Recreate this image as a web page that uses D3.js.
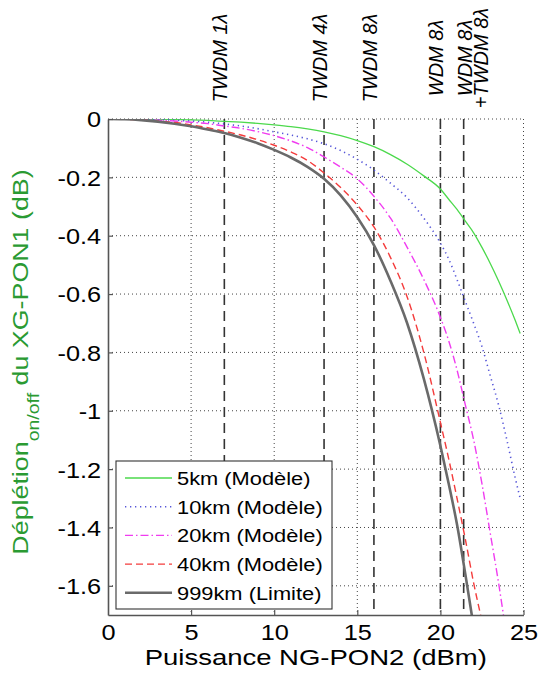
<!DOCTYPE html>
<html><head><meta charset="utf-8">
<script src="https://cdn.jsdelivr.net/npm/d3@7"></script>
<style>
body{margin:0;background:#fff}
svg text{font-family:"Liberation Sans",Arial,Helvetica,sans-serif;fill:#000}
</style>
</head><body>
<svg id="chart" width="539" height="682"></svg>
<script>
// ---------- data ----------
const xValues   = [0,1,2,3,4,5,6,7,8,9,10,11,12,13,14,15,16,17,18,19,20,20.5,21,21.5,22,22.5,23,23.5,24,24.5,24.8];
const km5       = [0,0,-0.001,-0.001,-0.002,-0.003,-0.005,-0.008,-0.011,-0.015,-0.02,-0.026,-0.034,-0.044,-0.057,-0.074,-0.095,-0.122,-0.155,-0.195,-0.24,-0.275,-0.31,-0.35,-0.39,-0.44,-0.495,-0.555,-0.62,-0.69,-0.735];
const km10      = [0,0,-0.001,-0.002,-0.004,-0.007,-0.011,-0.017,-0.024,-0.033,-0.044,-0.055,-0.068,-0.085,-0.108,-0.138,-0.175,-0.22,-0.27,-0.34,-0.425,-0.48,-0.55,-0.625,-0.7,-0.78,-0.88,-0.98,-1.1,-1.23,-1.3];
const km20      = [0,-0.0005,-0.002,-0.004,-0.007,-0.011,-0.016,-0.024,-0.032,-0.043,-0.057,-0.075,-0.098,-0.13,-0.165,-0.205,-0.265,-0.34,-0.44,-0.55,-0.68,-0.76,-0.86,-0.98,-1.1,-1.25,-1.42,-1.59,-1.78,null,null];
const km40      = [0,-0.001,-0.003,-0.007,-0.012,-0.02,-0.03,-0.042,-0.055,-0.071,-0.09,-0.113,-0.142,-0.185,-0.235,-0.295,-0.37,-0.475,-0.61,-0.8,-1.04,-1.165,-1.3,-1.44,-1.59,-1.72,null,null,null,null,null];
const km999     = [0,-0.001,-0.004,-0.009,-0.016,-0.025,-0.036,-0.048,-0.064,-0.083,-0.106,-0.132,-0.164,-0.205,-0.262,-0.337,-0.432,-0.555,-0.7,-0.89,-1.12,-1.25,-1.39,-1.56,-1.74,null,null,null,null,null,null];
const seriesNames  = ["5km (Modèle)","10km (Modèle)","20km (Modèle)","40km (Modèle)","999km (Limite)"];
const seriesValues = [km5, km10, km20, km40, km999];
const xTicks      = [0,5,10,15,20,25];
const xTickLabels = ["0","5","10","15","20","25"];
const yTicks      = [0,-0.2,-0.4,-0.6,-0.8,-1,-1.2,-1.4,-1.6];
const yTickLabels = ["0","-0.2","-0.4","-0.6","-0.8","-1","-1.2","-1.4","-1.6"];
const markerX      = [7,13,16,20,21.4];
const markerLabels = [["TWDM 1λ"],["TWDM 4λ"],["TWDM 8λ"],["WDM 8λ"],["WDM 8λ","+TWDM 8λ"]];
const xTitle = "Puissance NG-PON2 (dBm)";
const yTitleMain = "Déplétion", yTitleSub = "on/off", yTitleRest = " du XG-PON1 (dB)";

// ---------- styles ----------
const styles = [
  {color:"#4cd94c", width:1.3, dash:null},
  {color:"#5656d8", width:1.6, dash:"1.3,3.7"},
  {color:"#f03cf0", width:1.4, dash:"8,3,1.5,3"},
  {color:"#f43c3c", width:1.4, dash:"7,4"},
  {color:"#6a6a6a", width:2.6, dash:null}
];

const svg = d3.select("#chart");
const L=108, R=523.5, T=119, B=615;
const x = d3.scaleLinear().domain([0,25]).range([L,R]);
const y = d3.scaleLinear().domain([-1.7,0]).range([B,T]);

svg.append("defs").append("clipPath").attr("id","plotclip")
  .append("rect").attr("x",L).attr("y",T).attr("width",R-L).attr("height",B-T);

// grid
const grid = svg.append("g").attr("stroke","#444").attr("stroke-width",1).attr("stroke-dasharray","1,3");
grid.selectAll(".gx").data(xTicks.filter(d=>d>0)).join("line")
  .attr("x1",d=>x(d)).attr("x2",d=>x(d)).attr("y1",T).attr("y2",B);
grid.selectAll(".gy").data(yTicks).join("line")
  .attr("y1",d=>y(d)).attr("y2",d=>y(d)).attr("x1",L).attr("x2",R);

// vertical marker lines
svg.append("g").selectAll("line").data(markerX).join("line")
  .attr("x1",d=>x(d)).attr("x2",d=>x(d)).attr("y1",T).attr("y2",B)
  .attr("stroke","#333").attr("stroke-width",1.6).attr("stroke-dasharray","10,6");

// curves
const line = d3.line()
  .defined(d=>d[1]!==null)
  .x(d=>x(d[0])).y(d=>y(d[1]))
  .curve(d3.curveMonotoneX);
const curves = svg.append("g").attr("clip-path","url(#plotclip)");
seriesValues.forEach((vals,i)=>{
  const pts = xValues.map((xv,j)=>[xv, vals[j]]);
  curves.append("path").datum(pts).attr("d",line)
    .attr("fill","none").attr("stroke",styles[i].color)
    .attr("stroke-width",styles[i].width)
    .attr("stroke-dasharray",styles[i].dash);
});

// axes
const sx = 1.15;
const yAxis = svg.append("g").attr("transform",`translate(${L},0)`)
  .call(d3.axisLeft(y).tickValues(yTicks).tickFormat((d,i)=>yTickLabels[i])
        .tickSizeInner(-5).tickSizeOuter(0).tickPadding(6));
const xAxis = svg.append("g").attr("transform",`translate(0,${B})`)
  .call(d3.axisBottom(x).tickValues(xTicks).tickFormat((d,i)=>xTickLabels[i])
        .tickSizeInner(-5).tickSizeOuter(0).tickPadding(9));
[yAxis,xAxis].forEach(a=>{
  a.select(".domain").attr("stroke","#555").attr("stroke-width",1.6);
  a.selectAll(".tick line").attr("stroke","#555").attr("stroke-width",1.2);
  a.selectAll(".tick text").attr("font-size",22).attr("fill","#000")
    .style("font-family","'Liberation Sans',Arial,sans-serif");
});
yAxis.selectAll(".tick text").attr("transform",`scale(${sx},1)`).attr("dy","0.36em");
xAxis.selectAll(".tick text").attr("transform",`scale(${sx},1)`);
xAxis.selectAll(".tick").filter(d=>d===0).select("line").remove();

// marker labels
const ml = svg.append("g");
markerX.forEach((mx,i)=>{
  const lines = markerLabels[i];
  const n = lines.length;
  lines.forEach((t,j)=>{
    const bx = x(mx) + 3 + j*16 + (n-1)*5;
    ml.append("text").attr("transform",`translate(${bx},58) rotate(-90)`)
      .attr("text-anchor","middle").attr("font-size",20).attr("font-style","italic")
      .text(t);
  });
});

// axis titles
svg.append("text").attr("transform",`translate(${(L+R)/2},665) scale(1.25,1)`)
  .attr("text-anchor","middle").attr("font-size",22).text(xTitle);
const yt = svg.append("text").attr("transform",`translate(28,362) rotate(-90) scale(1.22,1)`)
  .attr("text-anchor","middle").attr("font-size",22).style("fill","#2a9a32");
yt.append("tspan").text(yTitleMain);
yt.append("tspan").attr("dy",11).attr("font-size",16).text(yTitleSub);
yt.append("tspan").attr("dy",-11).text(yTitleRest);

// legend
const lg = svg.append("g");
lg.append("rect").attr("x",116).attr("y",461).attr("width",216).attr("height",148)
  .attr("fill","#fff").attr("stroke","#333").attr("stroke-width",1.1);
seriesNames.forEach((name,i)=>{
  const ry = 478 + i*28.7;
  lg.append("line").attr("x1",125).attr("x2",172).attr("y1",ry).attr("y2",ry)
    .attr("stroke",styles[i].color).attr("stroke-width",styles[i].width)
    .attr("stroke-dasharray",styles[i].dash);
  lg.append("text").attr("transform",`translate(177,${ry}) scale(1.15,1)`)
    .attr("dy","0.36em").attr("font-size",19).text(name);
});
</script>
</body></html>
